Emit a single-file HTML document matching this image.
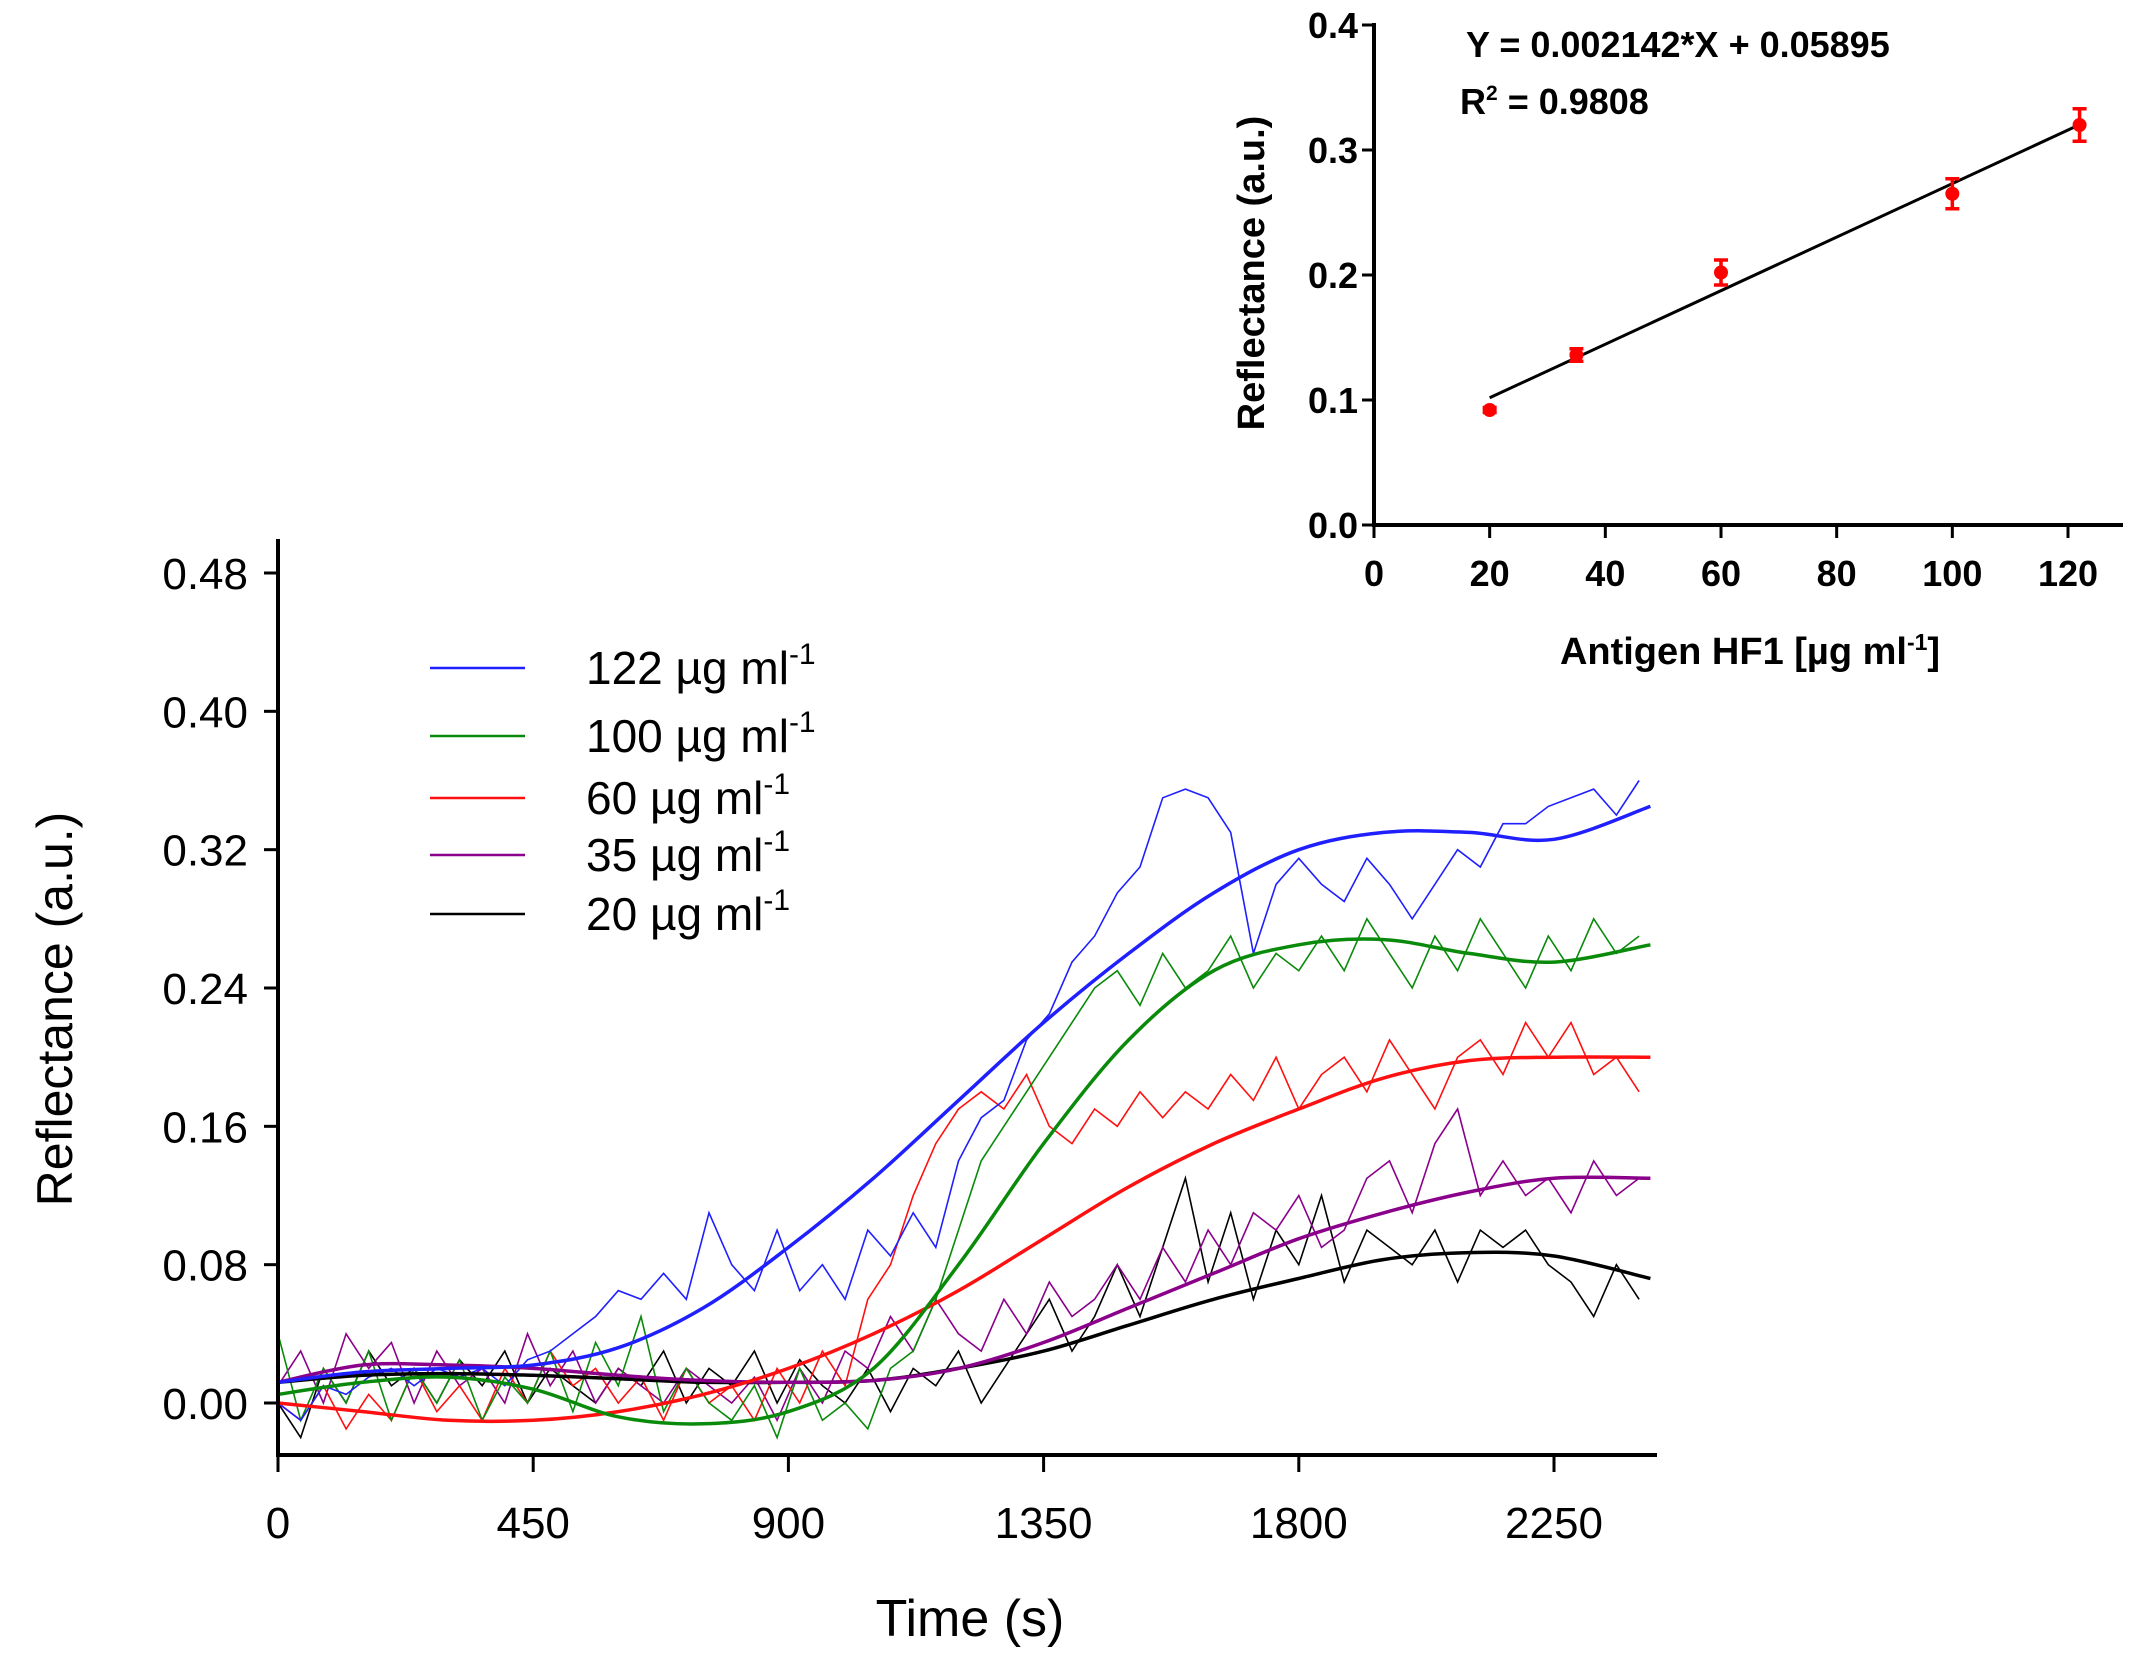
<!DOCTYPE html>
<html><head><meta charset="utf-8"><style>
html,body{margin:0;padding:0;background:#fff;}
svg{display:block;font-family:"Liberation Sans",sans-serif;}
</style></head><body>
<svg id="c" width="2138" height="1669" viewBox="0 0 2138 1669" xmlns="http://www.w3.org/2000/svg">
<g id="main"></g>
<g id="inset"></g>
</svg>
<script>
// ---- main chart data ----
const step = 40;
const blueRaw = [0.0,-0.01,0.01,0.005,0.015,0.02,0.01,0.02,0.015,0.02,0.01,0.025,0.03,0.04,0.05,0.065,0.06,0.075,0.06,0.11,0.08,0.065,0.1,0.065,0.08,0.06,0.1,0.085,0.11,0.09,0.14,0.165,0.175,0.21,0.225,0.255,0.27,0.295,0.31,0.35,0.355,0.35,0.33,0.26,0.3,0.315,0.3,0.29,0.315,0.3,0.28,0.3,0.32,0.31,0.335,0.335,0.345,0.35,0.355,0.34,0.36];
const greenRaw = [0.04,-0.01,0.02,0.0,0.03,-0.01,0.02,0.0,0.025,-0.01,0.015,0.0,0.03,-0.005,0.035,0.01,0.05,-0.005,0.02,0.0,-0.01,0.01,-0.02,0.02,-0.01,0.0,-0.015,0.02,0.03,0.06,0.1,0.14,0.16,0.18,0.2,0.22,0.24,0.25,0.23,0.26,0.24,0.25,0.27,0.24,0.26,0.25,0.27,0.25,0.28,0.26,0.24,0.27,0.25,0.28,0.26,0.24,0.27,0.25,0.28,0.26,0.27];
const redRaw = [0.0,-0.01,0.01,-0.015,0.005,-0.01,0.02,-0.005,0.01,-0.01,0.02,0.0,0.03,0.01,0.02,0.0,0.015,-0.01,0.02,0.0,0.01,-0.01,0.02,0.0,0.03,0.01,0.06,0.08,0.12,0.15,0.17,0.18,0.17,0.19,0.16,0.15,0.17,0.16,0.18,0.165,0.18,0.17,0.19,0.175,0.2,0.17,0.19,0.2,0.18,0.21,0.19,0.17,0.2,0.21,0.19,0.22,0.2,0.22,0.19,0.2,0.18];
const purpleRaw = [0.01,0.03,0.0,0.04,0.02,0.035,0.0,0.03,0.01,0.02,0.0,0.04,0.01,0.03,0.0,0.02,0.01,0.0,0.02,0.01,0.0,0.015,-0.01,0.02,0.0,0.03,0.02,0.05,0.03,0.06,0.04,0.03,0.06,0.04,0.07,0.05,0.06,0.08,0.06,0.09,0.07,0.1,0.08,0.11,0.1,0.12,0.09,0.1,0.13,0.14,0.11,0.15,0.17,0.12,0.14,0.12,0.13,0.11,0.14,0.12,0.13];
const blackRaw = [0.0,-0.02,0.02,0.0,0.03,0.01,0.02,0.0,0.025,0.01,0.03,0.0,0.02,0.01,0.0,0.02,0.01,0.03,0.0,0.02,0.01,0.03,0.0,0.025,0.01,0.0,0.02,-0.005,0.02,0.01,0.03,0.0,0.02,0.04,0.06,0.03,0.05,0.08,0.05,0.09,0.13,0.07,0.11,0.06,0.1,0.08,0.12,0.07,0.1,0.09,0.08,0.1,0.07,0.1,0.09,0.1,0.08,0.07,0.05,0.08,0.06];
const fitTimes = [0,150,300,450,600,750,900,1050,1200,1350,1500,1650,1800,1950,2100,2250,2420];
const blueFit = [0.012,0.018,0.02,0.022,0.032,0.055,0.09,0.13,0.175,0.22,0.26,0.295,0.32,0.33,0.33,0.326,0.345];
const greenFit = [0.005,0.012,0.015,0.008,-0.008,-0.012,-0.005,0.02,0.08,0.15,0.21,0.25,0.265,0.268,0.26,0.255,0.265];
const redFit = [0.0,-0.005,-0.01,-0.01,-0.005,0.005,0.02,0.04,0.065,0.095,0.125,0.15,0.17,0.188,0.198,0.2,0.2];
const purpleFit = [0.012,0.022,0.022,0.02,0.016,0.013,0.012,0.013,0.02,0.035,0.055,0.075,0.095,0.11,0.122,0.13,0.13];
const blackFit = [0.012,0.016,0.017,0.016,0.014,0.012,0.012,0.013,0.02,0.03,0.045,0.06,0.072,0.083,0.087,0.085,0.072];
const xTicks = [0,450,900,1350,1800,2250];
const yTicks = [0,0.08,0.16,0.24,0.32,0.40,0.48];
const legendLabels = ["122","100","60","35","20"];
// ---- inset data ----
const insetX = [20,35,60,100,122];
const insetY = [0.092,0.136,0.202,0.265,0.32];
const insetErr = [0.002,0.005,0.01,0.012,0.013];
const insetXTicks = [0,20,40,60,80,100,120];
const insetYTicks = [0.0,0.1,0.2,0.3,0.4];
const slope = 0.002142, intercept = 0.05895;

const NS="http://www.w3.org/2000/svg";
function mk(tag, attrs, parent, text){const e=document.createElementNS(NS,tag);for(const k in attrs)e.setAttribute(k,attrs[k]);if(text!==undefined)e.textContent=text;parent.appendChild(e);return e;}
function smooth(pts){
  let d='M'+pts[0][0].toFixed(1)+','+pts[0][1].toFixed(1);
  for(let i=0;i<pts.length-1;i++){
    const p0=pts[Math.max(i-1,0)],p1=pts[i],p2=pts[i+1],p3=pts[Math.min(i+2,pts.length-1)];
    const c1=[p1[0]+(p2[0]-p0[0])/6,p1[1]+(p2[1]-p0[1])/6];
    const c2=[p2[0]-(p3[0]-p1[0])/6,p2[1]-(p3[1]-p1[1])/6];
    d+=' C'+c1.map(v=>v.toFixed(1)).join(',')+' '+c2.map(v=>v.toFixed(1)).join(',')+' '+p2.map(v=>v.toFixed(1)).join(',');
  }
  return d;
}

const X = t => 278 + t*(1554-278)/2250;
const Y = v => 1403 - v*(1403-573)/0.48;
const M = document.getElementById('main');
const colors=["#1f1fff","#0a8a0a","#ff1010","#8b008b","#000000"];
const raws=[blueRaw,greenRaw,redRaw,purpleRaw,blackRaw];
const fits=[blueFit,greenFit,redFit,purpleFit,blackFit];
const names=["blue","green","red","purple","black"];
for(let s=4;s>=0;s--){
  const r=raws[s];
  let d=r.map((v,i)=>(i?'L':'M')+X(i*step).toFixed(1)+','+Math.min(Y(v),1454).toFixed(1)).join(' ');
  const p=mk('path',{d:d,fill:'none',stroke:colors[s],'stroke-width':1.6},M);
  
  
}
for(let s=4;s>=0;s--){
  const f=fits[s];
  const pts=f.map((v,i)=>[X(fitTimes[i]),Y(v)]);
  const p=mk('path',{d:smooth(pts),fill:'none',stroke:colors[s],'stroke-width':3.5,'stroke-linejoin':'round'},M);
  
  
}
mk('line',{x1:278,y1:539,x2:278,y2:1456,stroke:'#000','stroke-width':4},M);
mk('line',{x1:276,y1:1455,x2:1657,y2:1455,stroke:'#000','stroke-width':4},M);
yTicks.forEach(v=>{
  mk('line',{x1:264,y1:Y(v),x2:278,y2:Y(v),stroke:'#000','stroke-width':3},M);
  const t=mk('text',{x:248,y:Y(v)+16,'font-size':44,'text-anchor':'end'},M,v.toFixed(2));
  
  
});
xTicks.forEach(v=>{
  mk('line',{x1:X(v),y1:1455,x2:X(v),y2:1472,stroke:'#000','stroke-width':3},M);
  const t=mk('text',{x:X(v),y:1538,'font-size':44,'text-anchor':'middle'},M,String(v));
  
  
});
const yt=mk('text',{x:0,y:0,'font-size':50,'text-anchor':'middle',transform:'translate(72,1009) rotate(-90)'},M,'Reflectance (a.u.)');


const xt=mk('text',{x:970,y:1636,'font-size':52,'text-anchor':'middle'},M,'Time (s)');


const legY=[668,736,798,855,914];
legendLabels.forEach((l,i)=>{
  const g=mk('g',{},M);
  
  
  mk('line',{x1:430,y1:legY[i],x2:525,y2:legY[i],stroke:colors[i],'stroke-width':2.5},g);
  const t=mk('text',{x:586,y:legY[i]+16,'font-size':46},g);
  t.innerHTML=l+' µg ml<tspan dy="-20" font-size="30">-1</tspan>';
});

// inset
const I=document.getElementById('inset');
const IX = x => 1374 + x*(2068-1374)/120;
const IY = v => 525 - v*(525-25)/0.4;
mk('line',{x1:1374,y1:23,x2:1374,y2:527,stroke:'#000','stroke-width':4},I);
mk('line',{x1:1372,y1:525,x2:2123,y2:525,stroke:'#000','stroke-width':4},I);
insetYTicks.forEach(v=>{
  mk('line',{x1:1362,y1:IY(v),x2:1374,y2:IY(v),stroke:'#000','stroke-width':3},I);
  const t=mk('text',{x:1358,y:IY(v)+13,'font-size':36,'font-weight':'bold','text-anchor':'end'},I,v.toFixed(1));
  
  
});
insetXTicks.forEach(v=>{
  mk('line',{x1:IX(v),y1:525,x2:IX(v),y2:538,stroke:'#000','stroke-width':3},I);
  const t=mk('text',{x:IX(v),y:586,'font-size':36,'font-weight':'bold','text-anchor':'middle'},I,String(v));
  
  
});
const fl=mk('line',{x1:IX(insetX[0]),y1:IY(slope*insetX[0]+intercept),x2:IX(insetX[4]),y2:IY(slope*insetX[4]+intercept),stroke:'#000','stroke-width':3},I);


insetX.forEach((x,i)=>{
  const g=mk('g',{},I);
  
  
  const y0=IY(insetY[i]-insetErr[i]), y1=IY(insetY[i]+insetErr[i]);
  mk('line',{x1:IX(x),y1:y0,x2:IX(x),y2:y1,stroke:'#ff0000','stroke-width':3.5},g);
  mk('line',{x1:IX(x)-7,y1:y0,x2:IX(x)+7,y2:y0,stroke:'#ff0000','stroke-width':3.5},g);
  mk('line',{x1:IX(x)-7,y1:y1,x2:IX(x)+7,y2:y1,stroke:'#ff0000','stroke-width':3.5},g);
  mk('circle',{cx:IX(x),cy:IY(insetY[i]),r:7,fill:'#ff0000'},g);
});
const eq=mk('text',{x:1466,y:57,'font-size':36,'font-weight':'bold'},I,'Y = 0.002142*X + 0.05895');


const r2=mk('text',{x:1460,y:114,'font-size':36,'font-weight':'bold'},I);
r2.innerHTML='R<tspan dy="-14" font-size="21">2</tspan><tspan dy="14"> = 0.9808</tspan>';


const iyt=mk('text',{x:0,y:0,'font-size':38,'font-weight':'bold','text-anchor':'middle',transform:'translate(1264,273) rotate(-90)'},I,'Reflectance (a.u.)');


const ixt=mk('text',{x:1750,y:664,'font-size':38,'font-weight':'bold','text-anchor':'middle'},I);
ixt.innerHTML='Antigen HF1 [µg ml<tspan dy="-14" font-size="23">-1</tspan><tspan dy="14">]</tspan>';


</script>
</body></html>
